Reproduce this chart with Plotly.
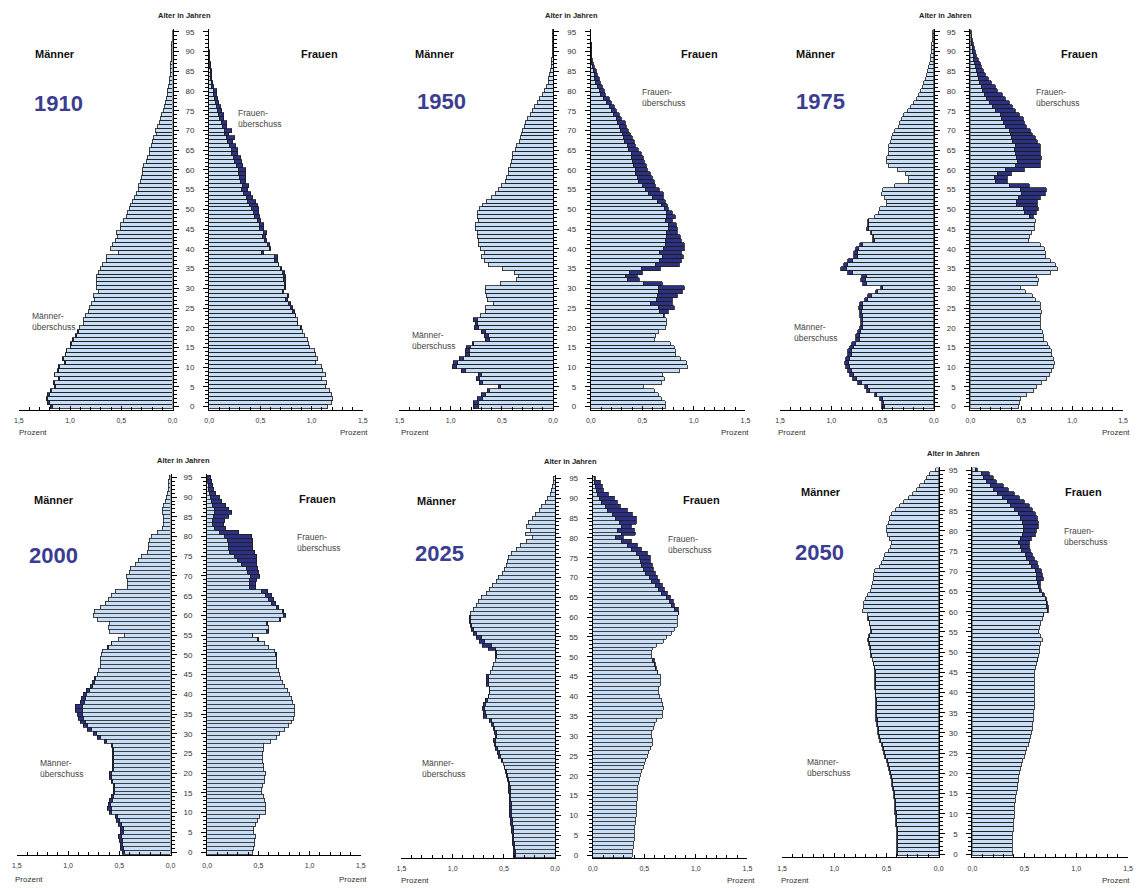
import plotly.graph_objects as go

# ---------------- data (ages listed from 95 down to 0, values in percent) ----------------
AGES = list(range(95, -1, -1))

M1910 = [0.0, 0.0, 0.001, 0.002, 0.003, 0.005, 0.007, 0.010, 0.012, 0.014,
         0.017, 0.020, 0.024, 0.028, 0.033, 0.045, 0.048, 0.055, 0.065, 0.075,
         0.085, 0.100, 0.110, 0.125, 0.140, 0.160, 0.155, 0.180, 0.190, 0.205,
         0.225, 0.220, 0.240, 0.250, 0.275, 0.290, 0.290, 0.300, 0.310, 0.330,
         0.325, 0.345, 0.370, 0.385, 0.405, 0.420, 0.440, 0.450, 0.475, 0.500,
         0.500, 0.540, 0.530, 0.550, 0.580, 0.600, 0.520, 0.645, 0.645, 0.680,
         0.700, 0.720, 0.735, 0.735, 0.740, 0.740, 0.720, 0.770, 0.755, 0.785,
         0.805, 0.820, 0.845, 0.870, 0.870, 0.900, 0.920, 0.940, 0.975, 0.990,
         0.995, 1.035, 1.045, 1.070, 1.055, 1.105, 1.120, 1.150, 1.110, 1.160,
         1.150, 1.190, 1.215, 1.230, 1.215, 1.185]
F1910 = [0.0, 0.0, 0.002, 0.003, 0.004, 0.006, 0.008, 0.012, 0.015, 0.020,
         0.025, 0.030, 0.033, 0.040, 0.050, 0.078, 0.075, 0.085, 0.100, 0.120,
         0.130, 0.150, 0.150, 0.180, 0.175, 0.225, 0.195, 0.255, 0.235, 0.260,
         0.285, 0.285, 0.310, 0.320, 0.330, 0.365, 0.360, 0.358, 0.360, 0.395,
         0.385, 0.410, 0.430, 0.460, 0.480, 0.490, 0.485, 0.500, 0.505, 0.540,
         0.535, 0.570, 0.555, 0.570, 0.595, 0.610, 0.540, 0.675, 0.670, 0.685,
         0.715, 0.740, 0.750, 0.750, 0.755, 0.755, 0.735, 0.785, 0.770, 0.800,
         0.820, 0.835, 0.850, 0.870, 0.872, 0.910, 0.915, 0.935, 0.965, 0.980,
         0.990, 1.030, 1.040, 1.060, 1.045, 1.100, 1.110, 1.145, 1.100, 1.150,
         1.140, 1.180, 1.200, 1.215, 1.200, 1.165]

M1950 = [0.002, 0.003, 0.004, 0.005, 0.006, 0.008, 0.010, 0.012, 0.014, 0.016,
         0.025, 0.035, 0.042, 0.050, 0.065, 0.087, 0.100, 0.130, 0.155, 0.180,
         0.205, 0.225, 0.250, 0.265, 0.280, 0.295, 0.310, 0.320, 0.330, 0.355,
         0.370, 0.395, 0.400, 0.405, 0.420, 0.435, 0.440, 0.460, 0.470, 0.500,
         0.530, 0.565, 0.600, 0.650, 0.690, 0.720, 0.740, 0.740, 0.725, 0.760,
         0.760, 0.740, 0.735, 0.730, 0.725, 0.705, 0.670, 0.695, 0.670, 0.630,
         0.490, 0.380, 0.340, 0.355, 0.515, 0.660, 0.660, 0.650, 0.640, 0.585,
         0.660, 0.665, 0.710, 0.780, 0.760, 0.765, 0.695, 0.675, 0.660, 0.790,
         0.845, 0.860, 0.860, 0.915, 0.975, 0.985, 0.895, 0.730, 0.750, 0.720,
         0.530, 0.645, 0.695, 0.740, 0.775, 0.775]
F1950 = [0.002, 0.003, 0.004, 0.006, 0.008, 0.010, 0.013, 0.020, 0.028, 0.040,
         0.055, 0.070, 0.085, 0.100, 0.120, 0.135, 0.150, 0.185, 0.205, 0.230,
         0.255, 0.285, 0.305, 0.335, 0.350, 0.370, 0.385, 0.410, 0.425, 0.440,
         0.465, 0.490, 0.510, 0.525, 0.545, 0.555, 0.585, 0.600, 0.620, 0.635,
         0.665, 0.705, 0.705, 0.730, 0.745, 0.760, 0.795, 0.820, 0.800, 0.830,
         0.840, 0.845, 0.870, 0.880, 0.910, 0.910, 0.885, 0.900, 0.880, 0.860,
         0.675, 0.505, 0.455, 0.480, 0.700, 0.915, 0.890, 0.845, 0.800, 0.800,
         0.815, 0.760, 0.720, 0.740, 0.740, 0.730, 0.660, 0.635, 0.620, 0.780,
         0.810, 0.820, 0.820, 0.875, 0.930, 0.940, 0.860, 0.700, 0.715, 0.690,
         0.515, 0.620, 0.660, 0.690, 0.730, 0.730]

M1975 = [0.003, 0.005, 0.010, 0.012, 0.015, 0.020, 0.025, 0.030, 0.040, 0.045,
         0.055, 0.065, 0.075, 0.090, 0.105, 0.120, 0.140, 0.160, 0.190, 0.220,
         0.250, 0.290, 0.305, 0.325, 0.340, 0.380, 0.395, 0.405, 0.415, 0.440,
         0.435, 0.440, 0.455, 0.460, 0.440, 0.345, 0.265, 0.240, 0.245, 0.380,
         0.495, 0.500, 0.475, 0.455, 0.455, 0.520, 0.535, 0.575, 0.640, 0.640,
         0.655, 0.610, 0.590, 0.590, 0.720, 0.760, 0.780, 0.780, 0.835, 0.880,
         0.900, 0.835, 0.700, 0.705, 0.690, 0.510, 0.565, 0.640, 0.670, 0.720,
         0.730, 0.715, 0.715, 0.705, 0.710, 0.720, 0.740, 0.755, 0.755, 0.795,
         0.815, 0.840, 0.840, 0.860, 0.870, 0.860, 0.840, 0.815, 0.785, 0.735,
         0.675, 0.650, 0.575, 0.520, 0.505, 0.500]
F1975 = [0.006, 0.013, 0.020, 0.030, 0.040, 0.050, 0.060, 0.075, 0.095, 0.110,
         0.125, 0.145, 0.175, 0.210, 0.250, 0.270, 0.315, 0.340, 0.385, 0.410,
         0.445, 0.480, 0.525, 0.530, 0.555, 0.585, 0.610, 0.640, 0.655, 0.685,
         0.685, 0.685, 0.700, 0.690, 0.685, 0.530, 0.400, 0.365, 0.360, 0.575,
         0.745, 0.735, 0.690, 0.660, 0.655, 0.670, 0.645, 0.620, 0.635, 0.630,
         0.630, 0.600, 0.580, 0.570, 0.685, 0.725, 0.735, 0.740, 0.785, 0.840,
         0.850, 0.790, 0.650, 0.665, 0.655, 0.490, 0.540, 0.605, 0.640, 0.685,
         0.690, 0.695, 0.690, 0.685, 0.690, 0.690, 0.705, 0.715, 0.720, 0.760,
         0.775, 0.800, 0.800, 0.820, 0.830, 0.820, 0.800, 0.780, 0.750, 0.700,
         0.645, 0.620, 0.550, 0.495, 0.480, 0.475]

M2000 = [0.010, 0.013, 0.015, 0.020, 0.030, 0.040, 0.050, 0.060, 0.075, 0.075,
         0.065, 0.060, 0.062, 0.075, 0.125, 0.180, 0.205, 0.210, 0.210, 0.225,
         0.275, 0.305, 0.340, 0.390, 0.400, 0.430, 0.415, 0.415, 0.420, 0.535,
         0.575, 0.605, 0.630, 0.680, 0.740, 0.750, 0.710, 0.590, 0.605, 0.590,
         0.445, 0.500, 0.575, 0.610, 0.660, 0.675, 0.680, 0.680, 0.680, 0.700,
         0.710, 0.740, 0.760, 0.780, 0.815, 0.850, 0.865, 0.880, 0.925, 0.925,
         0.900, 0.890, 0.875, 0.850, 0.805, 0.750, 0.705, 0.640, 0.575, 0.565,
         0.560, 0.560, 0.560, 0.560, 0.560, 0.590, 0.590, 0.575, 0.555, 0.555,
         0.555, 0.575, 0.590, 0.600, 0.610, 0.590, 0.535, 0.520, 0.500, 0.485,
         0.480, 0.500, 0.495, 0.485, 0.480, 0.470]
F2000 = [0.040, 0.050, 0.055, 0.070, 0.085, 0.125, 0.145, 0.185, 0.210, 0.240,
         0.210, 0.180, 0.170, 0.185, 0.310, 0.440, 0.450, 0.450, 0.450, 0.465,
         0.490, 0.490, 0.485, 0.500, 0.505, 0.520, 0.490, 0.480, 0.480, 0.595,
         0.630, 0.650, 0.670, 0.700, 0.755, 0.770, 0.725, 0.600, 0.605, 0.605,
         0.450, 0.505, 0.570, 0.605, 0.660, 0.680, 0.685, 0.685, 0.685, 0.700,
         0.710, 0.725, 0.740, 0.760, 0.790, 0.815, 0.830, 0.840, 0.860, 0.860,
         0.855, 0.845, 0.830, 0.805, 0.765, 0.715, 0.680, 0.620, 0.560, 0.555,
         0.550, 0.550, 0.550, 0.552, 0.555, 0.575, 0.570, 0.565, 0.545, 0.540,
         0.540, 0.555, 0.565, 0.580, 0.575, 0.575, 0.515, 0.495, 0.475, 0.460,
         0.455, 0.475, 0.470, 0.465, 0.455, 0.450]

M2025 = [0.015, 0.020, 0.030, 0.040, 0.050, 0.070, 0.090, 0.130, 0.150, 0.190,
         0.225, 0.260, 0.280, 0.245, 0.285, 0.225, 0.280, 0.340, 0.375, 0.425,
         0.460, 0.470, 0.475, 0.490, 0.510, 0.550, 0.570, 0.610, 0.640, 0.670,
         0.720, 0.750, 0.770, 0.800, 0.830, 0.840, 0.840, 0.830, 0.820, 0.800,
         0.770, 0.740, 0.710, 0.650, 0.580, 0.580, 0.580, 0.600, 0.610, 0.630,
         0.670, 0.670, 0.675, 0.645, 0.645, 0.655, 0.680, 0.700, 0.710, 0.700,
         0.700, 0.645, 0.620, 0.605, 0.590, 0.580, 0.605, 0.595, 0.580, 0.565,
         0.550, 0.525, 0.505, 0.495, 0.485, 0.475, 0.470, 0.460, 0.460, 0.455,
         0.450, 0.450, 0.450, 0.450, 0.448, 0.445, 0.440, 0.438, 0.430, 0.428,
         0.420, 0.418, 0.415, 0.410, 0.405, 0.405]
F2025 = [0.025, 0.080, 0.095, 0.110, 0.160, 0.215, 0.240, 0.270, 0.335, 0.385,
         0.425, 0.430, 0.375, 0.405, 0.415, 0.300, 0.375, 0.440, 0.480, 0.530,
         0.565, 0.565, 0.585, 0.595, 0.615, 0.630, 0.650, 0.675, 0.695, 0.730,
         0.760, 0.785, 0.800, 0.835, 0.835, 0.825, 0.825, 0.820, 0.800, 0.765,
         0.720, 0.690, 0.625, 0.585, 0.575, 0.575, 0.600, 0.615, 0.620, 0.635,
         0.655, 0.655, 0.655, 0.640, 0.640, 0.650, 0.665, 0.680, 0.690, 0.680,
         0.675, 0.625, 0.600, 0.595, 0.570, 0.570, 0.585, 0.585, 0.560, 0.545,
         0.530, 0.515, 0.505, 0.490, 0.475, 0.465, 0.455, 0.450, 0.440, 0.440,
         0.435, 0.435, 0.430, 0.430, 0.425, 0.425, 0.415, 0.415, 0.410, 0.410,
         0.405, 0.405, 0.400, 0.400, 0.390, 0.390]

M2050 = [0.025, 0.085, 0.110, 0.135, 0.175, 0.205, 0.245, 0.285, 0.335, 0.370,
         0.405, 0.445, 0.465, 0.480, 0.490, 0.490, 0.485, 0.465, 0.445, 0.460,
         0.475, 0.510, 0.525, 0.545, 0.565, 0.605, 0.615, 0.620, 0.630, 0.635,
         0.650, 0.675, 0.700, 0.715, 0.710, 0.720, 0.680, 0.672, 0.660, 0.652,
         0.648, 0.668, 0.675, 0.665, 0.655, 0.650, 0.645, 0.628, 0.620, 0.612,
         0.610, 0.609, 0.607, 0.606, 0.605, 0.604, 0.604, 0.603, 0.603, 0.602,
         0.600, 0.598, 0.595, 0.590, 0.585, 0.580, 0.570, 0.560, 0.545, 0.535,
         0.520, 0.510, 0.495, 0.485, 0.475, 0.465, 0.455, 0.450, 0.445, 0.440,
         0.430, 0.425, 0.420, 0.418, 0.415, 0.413, 0.410, 0.408, 0.405, 0.403,
         0.400, 0.398, 0.397, 0.395, 0.395, 0.395]
F2050 = [0.045, 0.165, 0.205, 0.235, 0.300, 0.350, 0.405, 0.455, 0.500, 0.550,
         0.580, 0.605, 0.630, 0.640, 0.640, 0.615, 0.605, 0.565, 0.545, 0.550,
         0.560, 0.580, 0.600, 0.625, 0.640, 0.665, 0.670, 0.680, 0.660, 0.660,
         0.665, 0.695, 0.710, 0.725, 0.735, 0.735, 0.685, 0.670, 0.655, 0.645,
         0.640, 0.660, 0.670, 0.660, 0.650, 0.645, 0.640, 0.630, 0.615, 0.605,
         0.602, 0.600, 0.598, 0.597, 0.596, 0.595, 0.595, 0.594, 0.594, 0.593,
         0.590, 0.588, 0.585, 0.580, 0.575, 0.570, 0.560, 0.550, 0.535, 0.525,
         0.510, 0.500, 0.485, 0.475, 0.465, 0.455, 0.445, 0.440, 0.435, 0.430,
         0.420, 0.415, 0.410, 0.408, 0.405, 0.403, 0.400, 0.398, 0.395, 0.393,
         0.390, 0.388, 0.387, 0.385, 0.385, 0.385]

YEARS = ["1910", "1950", "1975", "2000", "2025", "2050"]
MALES = [M1910, M1950, M1975, M2000, M2025, M2050]
FEMALES = [F1910, F1950, F1975, F2000, F2025, F2050]

X_TICK_VALS = [0.0, 0.5, 1.0, 1.5]
X_TICK_TEXT = ["0,0", "0,5", "1,0", "1,5"]
Y_TICK_VALS = list(range(0, 96, 5))
Y_TICK_TEXT = [str(v) for v in Y_TICK_VALS]

# ---------------- style / layout ----------------
W, H = 1137, 888
FONT = "Liberation Sans, Arial, sans-serif"
LIGHT = "#c8ddf6"
DARK = "#2d3184"
EDGE = "#1c1c1c"
YEARCOL = "#3b3e90"
TXT = "#333333"

# pixel geometry of each pyramid
GEOM = [
    dict(mx=(14, 169), fx=(206, 361), y0=407, y95=31, alter=(181, 15), men=(50, 53), women=(317, 53),
         year=(54, 103), fue=(233, 105), mue=(25, 309), pl=(12, 433), pr=(368, 433)),
    dict(mx=(398, 553), fx=(591, 747), y0=407, y95=31, alter=(572, 15), men=(434, 53), women=(701, 53),
         year=(440, 101), fue=(641, 84), mue=(409, 328), pl=(398, 433), pr=(753, 433)),
    dict(mx=(782, 937), fx=(974, 1128), y0=407, y95=31, alter=(949, 15), men=(818, 53), women=(1084, 53),
         year=(823, 101), fue=(1038, 84), mue=(794, 320), pl=(778, 433), pr=(1137, 433)),
    dict(mx=(12, 167), fx=(204, 359), y0=854, y95=478, alter=(180, 461), men=(49, 501), women=(315, 500),
         year=(49, 556), fue=(293, 531), mue=(33, 758), pl=(8, 881), pr=(367, 881)),
    dict(mx=(400, 555), fx=(593, 749), y0=857, y95=479, alter=(571, 462), men=(436, 502), women=(703, 501),
         year=(438, 554), fue=(667, 533), mue=(419, 758), pl=(397, 882), pr=(759, 882)),
    dict(mx=(784, 942), fx=(976, 1133), y0=856, y95=471, alter=(957, 454), men=(823, 493), women=(1088, 493),
         year=(822, 553), fue=(1066, 525), mue=(807, 757), pl=(781, 882), pr=(1137, 882)),
]


def px(x):
    return x / W


def py(y):
    return 1 - y / H


def axn(kind, i):
    return f"{kind}axis" if i == 1 else f"{kind}axis{i}"


def ref(kind, i):
    return kind if i == 1 else f"{kind}{i}"


fig = go.Figure()
layout = dict(
    width=W, height=H, margin=dict(l=0, r=0, t=0, b=0),
    paper_bgcolor="white", plot_bgcolor="white",
    barmode="stack", bargap=0, showlegend=False,
    font=dict(family=FONT, color=TXT),
)
annotations = []

for k, g in enumerate(GEOM):
    im, jf = 2 * k + 1, 2 * k + 2
    m, f = MALES[k], FEMALES[k]
    light = [min(a, b) for a, b in zip(m, f)]
    mex = [a - b if a > b else None for a, b in zip(m, f)]
    fex = [b - a if b > a else None for a, b in zip(m, f)]

    for vals, col, i in [(light, LIGHT, im), (mex, DARK, im), (light, LIGHT, jf), (fex, DARK, jf)]:
        fig.add_trace(go.Bar(
            y=AGES, x=vals, orientation="h",
            xaxis=ref("x", i), yaxis=ref("y", i),
            marker=dict(color=col, line=dict(color=EDGE, width=0.8)),
            hoverinfo="skip",
        ))

    s = (g["y0"] - g["y95"]) / 95.0
    ybot = g["y0"] + 0.75 * s
    ytop = g["y95"] - 0.75 * s
    ydom = [py(ybot), py(ytop)]
    yrange = [-0.75, 95.75]

    xcommon = dict(
        showline=True, linecolor="black", linewidth=1, showgrid=False, zeroline=False,
        tickmode="array", tickvals=X_TICK_VALS, ticktext=X_TICK_TEXT,
        ticks="inside", ticklen=4, tickcolor="black", tickwidth=1,
        minor=dict(dtick=0.1, tick0=0, ticks="inside", ticklen=3, tickcolor="black", showgrid=False),
        tickfont=dict(size=7, color=TXT, family=FONT), ticklabelstandoff=4,
        fixedrange=True,
    )
    layout[axn("x", im)] = dict(xcommon, domain=[px(g["mx"][0]), px(g["mx"][1])],
                                range=[1.5, 0], anchor=ref("y", im))
    layout[axn("x", jf)] = dict(xcommon, domain=[px(g["fx"][0]), px(g["fx"][1])],
                                range=[0, 1.5], anchor=ref("y", jf))

    ycommon = dict(
        domain=ydom, range=yrange, showline=True, linecolor="black", linewidth=1.2,
        showgrid=False, zeroline=False,
        tickmode="array", tickvals=Y_TICK_VALS, ticktext=Y_TICK_TEXT,
        ticks="outside", ticklen=5, tickcolor="black", tickwidth=1,
        minor=dict(dtick=1, tick0=0, ticks="outside", ticklen=3, tickcolor="black", showgrid=False),
        fixedrange=True,
    )
    layout[axn("y", im)] = dict(ycommon, side="right", anchor=ref("x", im), showticklabels=False)
    layout[axn("y", jf)] = dict(ycommon, side="left", anchor=ref("x", jf), showticklabels=True,
                                tickfont=dict(size=8, color=TXT, family=FONT), ticklabelstandoff=7)

    def ann(text, xy, size, xanchor="center", yanchor="middle", bold=False, color=TXT, align="center"):
        annotations.append(dict(
            text=f"<b>{text}</b>" if bold else text,
            x=px(xy[0]), y=py(xy[1]), xref="paper", yref="paper",
            xanchor=xanchor, yanchor=yanchor, showarrow=False, align=align,
            font=dict(size=size, color=color, family=FONT),
        ))

    ann("Alter in Jahren", g["alter"], 7.5, bold=True, color="#222222")
    ann("Männer", g["men"], 11, bold=True, color="#111111")
    ann("Frauen", g["women"], 11, bold=True, color="#111111")
    annotations.append(dict(
        text=f"<b>{YEARS[k]}</b>", x=px(g["year"][0]), y=py(g["year"][1]),
        xref="paper", yref="paper", xanchor="center", yanchor="middle", showarrow=False,
        font=dict(size=22, color=YEARCOL, family="Liberation Sans Narrow, Arial Narrow, " + FONT),
    ))
    ann("Frauen-<br>überschuss", g["fue"], 8.5, xanchor="left", yanchor="top", align="left", color="#444444")
    ann("Männer-<br>überschuss", g["mue"], 8.5, xanchor="left", yanchor="top", align="left", color="#444444")
    ann("Prozent", g["pl"], 8, xanchor="left", color="#333333")
    ann("Prozent", g["pr"], 8, xanchor="right", color="#333333")

layout["annotations"] = annotations
fig.update_layout(**layout)
fig.write_html(
    "out.html",
    config={"displayModeBar": False},
    post_script="document.body.style.margin='0';document.body.style.overflow='hidden';",
)
